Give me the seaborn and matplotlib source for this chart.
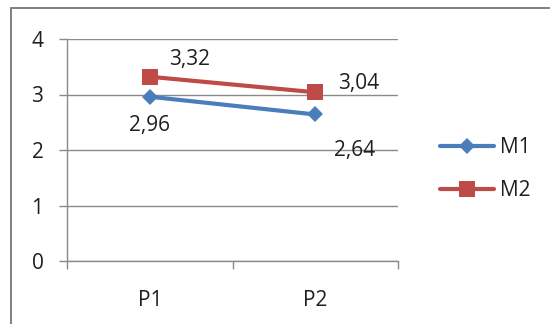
import matplotlib
matplotlib.use("Agg")
import matplotlib.pyplot as plt
from matplotlib.patches import Rectangle
import seaborn as sns

# Mean scores per period for the two measures
periods = ["P1", "P2"]
m1_values = [2.96, 2.64]
m2_values = [3.32, 3.04]
series_names = ["M1", "M2"]
yticks = [0, 1, 2, 3, 4]

sns.set_theme(style="white")
plt.rcParams["font.family"] = ["Open Sans", "DejaVu Sans"]

TEXT = "#1f1f1f"
GRID = "#8a8a8a"
BLUE = "#4a7ebb"
RED = "#be4b48"
FS = 15

W, H = 550, 324
fig = plt.figure(figsize=(W / 100, H / 100), dpi=100)
ax = fig.add_axes([67 / W, 1 - 261 / H, (398 - 67) / W, (261 - 39) / H])

# Chart frame (runs past the right and bottom edges)
frame_top = 1 - 8 / H
fig.patches.append(Rectangle((11 / W, -0.2), 1.2, frame_top + 0.2,
                             transform=fig.transFigure, fill=False,
                             edgecolor="#7f7f7f", linewidth=1.4))

sns.lineplot(x=periods, y=m1_values, ax=ax, color=BLUE, marker="D",
             markersize=8.5, markeredgewidth=0, linewidth=3, label=series_names[0])
sns.lineplot(x=periods, y=m2_values, ax=ax, color=RED, marker="s",
             markersize=12, markeredgewidth=0, linewidth=3, label=series_names[1])

ax.set_xlim(-0.5, 1.5)
ax.set_ylim(0, 4)
ax.set_yticks(yticks)
ax.set_yticklabels([str(v) for v in yticks])
ax.set_xticks([0, 1])
ax.set_xticklabels(periods)
ax.set_xticks([-0.5, 0.5, 1.5], minor=True)
ax.set_xlabel("")
ax.set_ylabel("")

ax.grid(axis="y", color=GRID, linewidth=1.0)
ax.set_axisbelow(True)
for side in ("top", "right"):
    ax.spines[side].set_visible(False)
for side in ("left", "bottom"):
    ax.spines[side].set_color(GRID)
    ax.spines[side].set_linewidth(1.0)

ax.tick_params(axis="y", which="major", length=6, width=1, color=GRID,
               direction="out", pad=11, labelsize=FS, labelcolor=TEXT, left=True)
ax.tick_params(axis="x", which="major", length=0, pad=21, labelsize=FS,
               labelcolor=TEXT)
ax.tick_params(axis="x", which="minor", length=6, width=1, color=GRID,
               direction="out", bottom=True)

# Value labels
def label(x, y, text, dx, dy, ha):
    ax.annotate(text, xy=(x, y), xytext=(dx, dy), textcoords="offset pixels",
                ha=ha, va="center", fontsize=FS, color=TEXT)

label(0, m2_values[0], f"{m2_values[0]:.2f}".replace(".", ","), 19, 17, "left")
label(0, m1_values[0], f"{m1_values[0]:.2f}".replace(".", ","), 0, -29, "center")
label(1, m2_values[1], f"{m2_values[1]:.2f}".replace(".", ","), 23, 9, "left")
label(1, m1_values[1], f"{m1_values[1]:.2f}".replace(".", ","), 19, -36, "left")

leg = ax.legend(loc="center left", bbox_to_anchor=(440 / W, 1 - 169 / H),
                bbox_transform=fig.transFigure, frameon=False, fontsize=FS,
                borderpad=0, borderaxespad=0, handlelength=2.6,
                handletextpad=0.3, labelspacing=1.05)
for t in leg.get_texts():
    t.set_color(TEXT)

fig.savefig("out.png", dpi=100)
